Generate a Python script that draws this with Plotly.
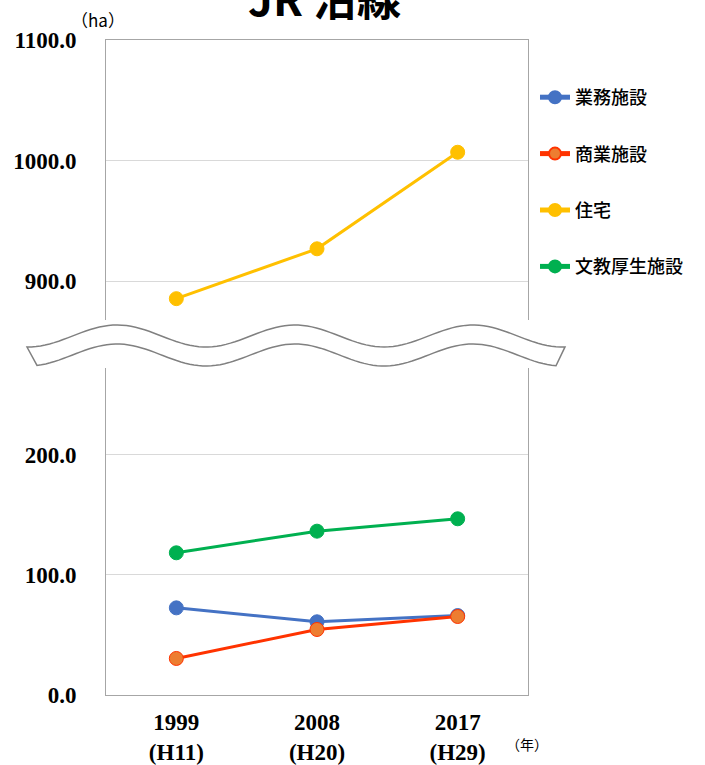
import numpy as np
import plotly.graph_objects as go

categories = ["1999<br>(H11)", "2008<br>(H20)", "2017<br>(H29)"]
office = [72.5, 60.9, 66.1]        # 業務施設
commercial = [30.4, 54.5, 65.3]    # 商業施設
housing = [885.7, 927.0, 1007.0]   # 住宅
public = [118.3, 136.3, 146.6]     # 文教厚生施設

# layout geometry (pixels)
W, H = 705, 765
L, R, T, B = 106, 528, 40, 695


def px(x):
    return (x - L) / (R - L)


def py(y):
    return (B - y) / (B - T)


fig = go.Figure()

serif = "Liberation Serif"
cjk = "Noto Sans CJK JP"

def add(name, vals, line_color, marker_color, outline, yaxis):
    fig.add_trace(go.Scatter(
        x=categories, y=vals, name=name, mode="lines+markers",
        line=dict(color=line_color, width=3),
        marker=dict(color=marker_color, size=14, line=dict(color=outline, width=1)),
        yaxis=yaxis, xaxis="x" if yaxis == "y" else "x2",
        legendgroup=name,
    ))

add("業務施設", office, "#4472C4", "#4472C4", "#4472C4", "y")
add("商業施設", commercial, "#FF3300", "#ED7D31", "#FF3300", "y")
add("住宅", housing, "#FFC000", "#FFC000", "#FFC000", "y2")
add("文教厚生施設", public, "#00B050", "#00B050", "#00B050", "y")

frame = "#A6A6A6"
grid = "#D9D9D9"
tickfont = dict(family=serif, size=23, color="#000000", weight="bold")

fig.update_layout(
    width=W, height=H,
    margin=dict(l=L, r=W - R, t=T, b=H - B, autoexpand=False),
    paper_bgcolor="white", plot_bgcolor="white",
    showlegend=True,
    legend=dict(
        x=px(535), y=py(79), xanchor="left", yanchor="top",
        font=dict(family=cjk, size=18, color="#000000", weight=500),
        tracegroupgap=30, itemsizing="constant", itemwidth=30,
        bgcolor="rgba(0,0,0,0)",
    ),
    xaxis=dict(
        domain=[0, 1], anchor="y", type="category", range=[-0.5, 2.5],
        showline=True, linecolor=frame, linewidth=1, mirror=False,
        showgrid=False, ticks="", tickfont=tickfont, ticklabelstandoff=6,
        automargin=False,
    ),
    xaxis2=dict(
        domain=[0, 1], anchor="y2", type="category", range=[-0.5, 2.5],
        side="top", showline=True, linecolor=frame, linewidth=1,
        showgrid=False, showticklabels=False, ticks="", matches="x",
        automargin=False,
    ),
    yaxis=dict(
        domain=[0, py(368)], range=[0, (B - 368) / 1.202], anchor="x",
        dtick=100, tick0=0, tickformat=".1f",
        showline=True, mirror=True, linecolor=frame, linewidth=1,
        showgrid=True, gridcolor=grid, gridwidth=1, zeroline=False,
        ticks="", tickfont=tickfont, ticklabelstandoff=24, automargin=False,
    ),
    yaxis2=dict(
        domain=[py(320), 1], range=[1100 - (320 - T) / 1.207, 1100], anchor="x2",
        dtick=100, tick0=0, tickformat=".1f",
        showline=True, mirror=True, linecolor=frame, linewidth=1,
        showgrid=True, gridcolor=grid, gridwidth=1, zeroline=False,
        ticks="", tickfont=tickfont, ticklabelstandoff=24, automargin=False,
    ),
)

# axis break decoration (wavy band)
xs_top = np.linspace(27, 565, 120)
ys_top = 336 - 11 * np.cos(2 * np.pi * (xs_top - 117) / 178)
xs_bot = np.linspace(556, 37, 120)
ys_bot = 355 - 11 * np.cos(2 * np.pi * (xs_bot - 117) / 178)
pts = [(px(x), py(y)) for x, y in zip(xs_top, ys_top)] + \
      [(px(x), py(y)) for x, y in zip(xs_bot, ys_bot)]
path = "M " + " L ".join(f"{a:.5f},{b:.5f}" for a, b in pts) + " Z"
fig.add_shape(type="path", path=path, xref="paper", yref="paper",
              fillcolor="white", line=dict(color="#808080", width=1.5), layer="above")

# title (partially cut at the top, as in the reference) and unit labels
fig.add_annotation(text="<b>JR 沿線</b>", x=px(324), y=py(-3), xref="paper", yref="paper",
                   showarrow=False, font=dict(family=cjk, size=44, color="#000000"),
                   xanchor="center", yanchor="middle")
fig.add_annotation(text="（ha）", x=px(98), y=py(20), xref="paper", yref="paper",
                   showarrow=False, font=dict(family=cjk, size=17, color="#000000"),
                   xanchor="center", yanchor="middle")
fig.add_annotation(text="（年）", x=px(527), y=py(744), xref="paper", yref="paper",
                   showarrow=False, font=dict(family=cjk, size=14, color="#000000"),
                   xanchor="center", yanchor="middle")

fig.write_html("out.html",
               config={"displayModeBar": False},
               post_script="document.body.style.margin='0';document.body.style.overflow='hidden';")
